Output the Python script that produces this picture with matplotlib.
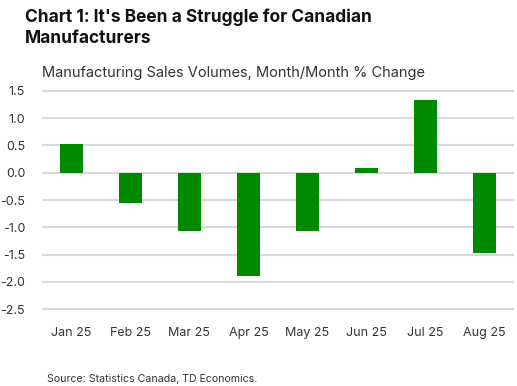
import matplotlib
matplotlib.use("Agg")
import matplotlib.pyplot as plt

categories = ["Jan 25", "Feb 25", "Mar 25", "Apr 25", "May 25", "Jun 25", "Jul 25", "Aug 25"]
values = [0.53, -0.56, -1.06, -1.89, -1.06, 0.09, 1.34, -1.48]
yticks = [1.5, 1.0, 0.5, 0.0, -0.5, -1.0, -1.5, -2.0, -2.5]

plt.rcParams['font.family'] = ['Inter', 'DejaVu Sans']

fig = plt.figure(figsize=(5.17, 3.86), dpi=100)
ax = fig.add_axes([0.081, 0.185, 0.913, 0.5935])

x = range(len(categories))
ax.bar(x, values, width=0.39, color="#008a00", zorder=3)
ax.set_xlim(-0.5, len(categories) - 0.5)
ax.set_ylim(-2.6, 1.6)
ax.set_yticks(yticks)
ax.set_yticklabels([f"{v:.1f}" for v in yticks])
ax.set_xticks(list(x))
ax.set_xticklabels(categories)
for v in yticks:
    ax.axhline(v, color="#d9d9d9", lw=1.5, zorder=1)
for s in ax.spines.values():
    s.set_visible(False)
ax.tick_params(axis='both', length=0, labelsize=9, colors="#333333")
ax.tick_params(axis='y', pad=12)
ax.tick_params(axis='x', pad=9)

fig.text(0.048, 0.978, "Chart 1: It's Been a Struggle for Canadian\nManufacturers",
         fontsize=12.5, fontweight='bold', color="#111111", va='top', ha='left', linespacing=1.3)
fig.text(0.081, 0.81, "Manufacturing Sales Volumes, Month/Month % Change",
         fontsize=10.5, color="#333333", va='center', ha='left')
fig.text(0.09, 0.018, "Source: Statistics Canada, TD Economics.",
         fontsize=7.6, color="#333333", va='center', ha='left')

fig.savefig("out.png", dpi=100)
